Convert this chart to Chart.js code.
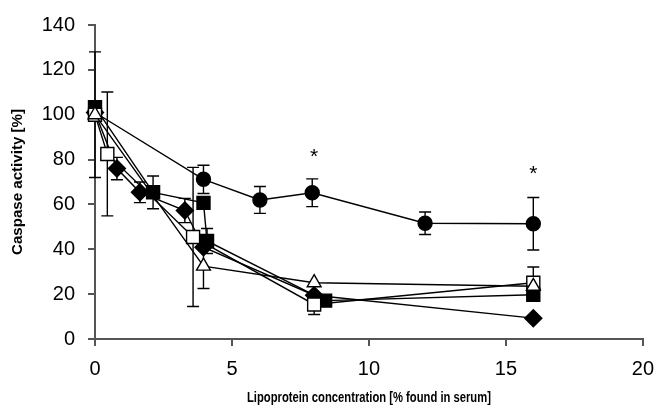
<!DOCTYPE html>
<html>
<head>
<meta charset="utf-8">
<script src="https://cdn.jsdelivr.net/npm/chart.js@4.4.1/dist/chart.umd.min.js"></script>
<style>
  html, body { margin: 0; padding: 0; background: #fff; }
  #wrap { width: 665px; height: 411px; }
</style>
</head>
<body>
<div id="wrap"><canvas id="c" width="665" height="411"></canvas></div>
<script>
// Caspase activity (%) versus lipoprotein concentration (% of serum level)
// Filled circles
const circleX   = [0, 3.96, 6.02, 7.93, 12.05, 16];
const circleY   = [101, 71.2, 62, 65.2, 51.6, 51.4];
const circleErr = [0, 6.3, 6, 6.2, 5, 11.7];
// Filled squares
const fSquareX   = [0, 2.12, 3.96, 4.09, 8.4, 16];
const fSquareY   = [103.4, 65.4, 60.7, 43.7, 17.1, 19.7];
const fSquareErr = [0, 7.3, 0, 5.6, 0, 0];
// Filled diamonds
const diamondX   = [0, 0.8, 1.64, 3.28, 3.96, 8, 16];
const diamondY   = [101, 76, 65.4, 57.3, 40.9, 19.5, 9.3];
const diamondErr = [0, 5, 4.6, 5.4, 0, 0, 0];
// Open squares
const oSquareX   = [0, 0.45, 3.58, 8, 16];
const oSquareY   = [100, 82.5, 45.5, 15.4, 25.1];
const oSquareErr = [28, 27.6, 31, 4.5, 7];
// Open triangles
const triangleX   = [0, 3.96, 8, 16];
const triangleY   = [100, 32.5, 25.1, 23.5];
const triangleErr = [0, 10, 0, 0];

// Significance marks
const starX = [8, 16];
const starY = [81, 73.4];

const xTicks = [0, 5, 10, 15, 20];
const yTicks = [0, 20, 40, 60, 80, 100, 120, 140];

const xTitle = 'Lipoprotein concentration [% found in serum]';
const yTitle = 'Caspase activity [%]';

const pts = (xs, ys) => xs.map((x, i) => ({ x: x, y: ys[i] }));

const AXIS = '#555555';
const FONT = '"Liberation Sans", Arial, sans-serif';

// Draws a bold title squeezed horizontally to a given width
function squeezedText(ctx, text, cx, cy, width, rot) {
  ctx.save();
  ctx.font = 'bold 15px ' + FONT;
  ctx.fillStyle = '#000';
  ctx.textAlign = 'center';
  ctx.textBaseline = 'middle';
  const w = ctx.measureText(text).width;
  ctx.translate(cx, cy);
  ctx.rotate(rot);
  ctx.scale(width / w, 1);
  ctx.fillText(text, 0, 0);
  ctx.restore();
}

const decorations = {
  id: 'decorations',
  beforeDatasetsDraw(chart) {
    const { ctx, scales: { x, y } } = chart;
    ctx.save();
    ctx.strokeStyle = '#000';
    ctx.lineWidth = 1.4;
    chart.data.datasets.forEach(ds => {
      (ds.errors || []).forEach((e, i) => {
        if (!e) return;
        const p = ds.data[i];
        const px = x.getPixelForValue(p.x);
        const t = y.getPixelForValue(p.y + e);
        const b = y.getPixelForValue(p.y - e);
        ctx.beginPath();
        ctx.moveTo(px, t); ctx.lineTo(px, b);
        ctx.moveTo(px - 6, t); ctx.lineTo(px + 6, t);
        ctx.moveTo(px - 6, b); ctx.lineTo(px + 6, b);
        ctx.stroke();
      });
    });
    ctx.restore();
  },
  afterDatasetsDraw(chart) {
    const { ctx, scales: { x, y } } = chart;
    ctx.save();
    ctx.fillStyle = '#000';
    ctx.font = '21px ' + FONT;
    ctx.textAlign = 'center';
    ctx.textBaseline = 'middle';
    starX.forEach((sx, i) => {
      ctx.fillText('*', x.getPixelForValue(sx), y.getPixelForValue(starY[i]));
    });
    ctx.restore();
  },
  afterDraw(chart) {
    const { ctx, scales: { x, y } } = chart;
    squeezedText(ctx, xTitle, (x.left + x.right) / 2, 398, 244, 0);
    squeezedText(ctx, yTitle, 18, (y.top + y.bottom) / 2, 146, -Math.PI / 2);
  }
};

const common = {
  showLine: true,
  clip: false,
  borderColor: '#000',
  borderWidth: 1.4,
  pointBorderColor: '#000',
  pointBorderWidth: 1.4,
  tension: 0
};

new Chart(document.getElementById('c'), {
  type: 'scatter',
  data: {
    datasets: [
      Object.assign({}, common, { label: 'open triangles', data: pts(triangleX, triangleY), errors: triangleErr,
        pointStyle: 'triangle', pointRadius: 8, pointBackgroundColor: '#fff' }),
      Object.assign({}, common, { label: 'open squares', data: pts(oSquareX, oSquareY), errors: oSquareErr,
        pointStyle: 'rect', pointRadius: 9.2, pointBackgroundColor: '#fff' }),
      Object.assign({}, common, { label: 'filled squares', data: pts(fSquareX, fSquareY), errors: fSquareErr,
        pointStyle: 'rect', pointRadius: 9.2, pointBackgroundColor: '#000' }),
      Object.assign({}, common, { label: 'filled diamonds', data: pts(diamondX, diamondY), errors: diamondErr,
        pointStyle: 'rectRot', pointRadius: 8.5, pointBackgroundColor: '#000' }),
      Object.assign({}, common, { label: 'filled circles', data: pts(circleX, circleY), errors: circleErr,
        pointStyle: 'circle', pointRadius: 7, pointBackgroundColor: '#000' })
    ]
  },
  options: {
    responsive: false,
    animation: false,
    devicePixelRatio: 1,
    layout: { padding: { top: 20, right: 11, left: 0, bottom: 0 } },
    plugins: { legend: { display: false }, tooltip: { enabled: false } },
    scales: {
      x: {
        type: 'linear', min: 0, max: 20,
        afterBuildTicks(s) { s.ticks = xTicks.map(v => ({ value: v })); },
        afterFit(s) { s.height = 72; },
        ticks: { color: '#000', font: { family: FONT, size: 20 }, padding: 11, maxRotation: 0 },
        grid: { drawOnChartArea: false, drawTicks: true, tickLength: 7, color: AXIS, lineWidth: 2 },
        border: { display: true, color: AXIS, width: 2 },
        title: { display: false, text: xTitle }
      },
      y: {
        type: 'linear', min: 0, max: 140,
        afterBuildTicks(s) { s.ticks = yTicks.map(v => ({ value: v })); },
        afterFit(s) { s.width = 95; },
        ticks: { color: '#000', font: { family: FONT, size: 20 }, padding: 13 },
        grid: { drawOnChartArea: false, drawTicks: true, tickLength: 7, color: AXIS, lineWidth: 2 },
        border: { display: true, color: AXIS, width: 2 },
        title: { display: false, text: yTitle }
      }
    }
  },
  plugins: [decorations]
});
</script>
</body>
</html>
